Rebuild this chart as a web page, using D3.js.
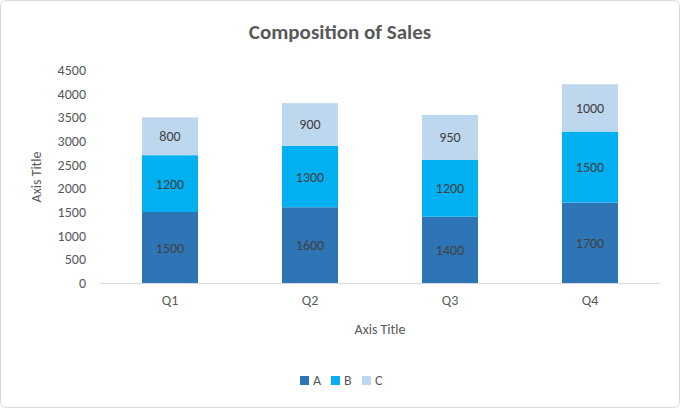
<!DOCTYPE html>
<html><head><meta charset="utf-8">
<script src="https://cdn.jsdelivr.net/npm/d3@7"></script>
<style>body{margin:0;background:#fff}</style></head>
<body><svg id="c" width="680" height="408"></svg>
<script>
const categories = ["Q1","Q2","Q3","Q4"];
const seriesNames = ["A","B","C"];
const A = [1500,1600,1400,1700];
const B = [1200,1300,1200,1500];
const C = [800,900,950,1000];
const yTicks = [0,500,1000,1500,2000,2500,3000,3500,4000,4500];
const colors = ["#2E75B6","#00B0F0","#BDD7EE"];
const font = "Calibri, Carlito, 'Liberation Sans', sans-serif";

const svg = d3.select("#c");
svg.append("rect").attr("x",0.5).attr("y",0.5).attr("width",679).attr("height",407)
  .attr("rx",6).attr("fill","#fff").attr("stroke","#d9d9d9");
const x = d3.scaleBand().domain(categories).range([100,660]).paddingInner(0.6).paddingOuter(0.3);
const y = d3.scaleLinear().domain([0,4500]).range([283,70]);

svg.append("text").attr("x",340).attr("y",39).attr("text-anchor","middle")
  .attr("font-family",font).attr("font-size",21).attr("font-weight","bold").attr("fill","#595959")
  .text("Composition of Sales");

const rows = categories.map((c,i)=>({cat:c,A:A[i],B:B[i],C:C[i]}));
const stack = d3.stack().keys(seriesNames)(rows);
stack.forEach((s,si)=>{
  const g = svg.append("g");
  g.selectAll("rect").data(s).join("rect")
    .attr("x",d=>x(d.data.cat)).attr("width",x.bandwidth())
    .attr("y",d=>y(d[1])).attr("height",d=>y(d[0])-y(d[1]))
    .attr("fill",colors[si]);
  g.selectAll("text").data(s).join("text")
    .attr("x",d=>x(d.data.cat)+x.bandwidth()/2).attr("y",d=>(y(d[0])+y(d[1]))/2+5)
    .attr("text-anchor","middle").attr("font-family",font).attr("font-size",14).attr("fill","#404040")
    .text(d=>d[1]-d[0]);
});

svg.append("line").attr("x1",100).attr("x2",660).attr("y1",283.5).attr("y2",283.5).attr("stroke","#d9d9d9");
svg.append("g").selectAll("text").data(yTicks).join("text")
  .attr("x",86).attr("y",d=>y(d)+5).attr("text-anchor","end")
  .attr("font-family",font).attr("font-size",14).attr("fill","#595959").text(d=>d);
svg.append("g").selectAll("text").data(categories).join("text")
  .attr("x",d=>x(d)+x.bandwidth()/2).attr("y",305).attr("text-anchor","middle")
  .attr("font-family",font).attr("font-size",14).attr("fill","#595959").text(d=>d);
svg.append("text").attr("x",380).attr("y",334).attr("text-anchor","middle")
  .attr("font-family",font).attr("font-size",14).attr("fill","#595959").text("Axis Title");
svg.append("text").attr("transform","translate(41,177) rotate(-90)").attr("text-anchor","middle")
  .attr("font-family",font).attr("font-size",14).attr("fill","#595959").text("Axis Title");

const lg = svg.append("g");
seriesNames.forEach((n,i)=>{
  const lx = 300 + i*31;
  lg.append("rect").attr("x",lx).attr("y",376).attr("width",9).attr("height",9).attr("fill",colors[i]);
  lg.append("text").attr("x",lx+13).attr("y",385).attr("font-family",font).attr("font-size",14)
    .attr("fill","#595959").text(n);
});
</script></body></html>
